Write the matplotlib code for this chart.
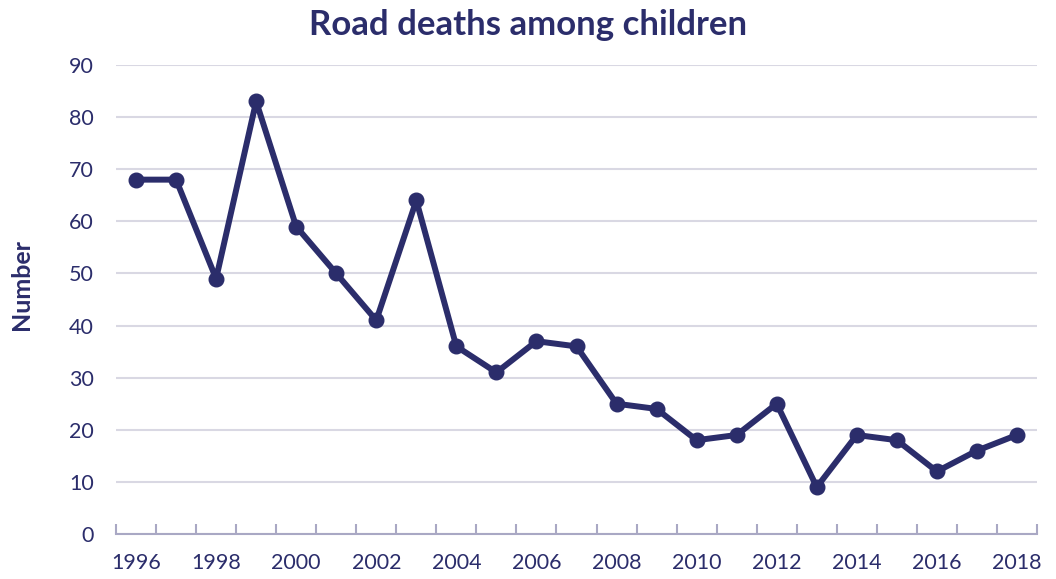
#!/usr/bin/env python3

import matplotlib
matplotlib.use('Agg')
from matplotlib import pyplot as plt
from matplotlib.ticker import FixedLocator


years = list(range(1996, 2019))
deaths = [68, 68, 49, 83, 59, 50, 41, 64, 36, 31, 37, 36,
          25, 24, 18, 19, 25, 9, 19, 18, 12, 16, 19]
yticks = list(range(0, 91, 10))

navy = '#2b2d6b'
grid_col = '#d9d8e3'
axis_col = '#a9a8c4'

plt.rcParams['font.family'] = ['Lato', 'DejaVu Sans']

fig = plt.figure(figsize=(10.56, 5.79), dpi=100)
ax = fig.add_axes([116 / 1056, 45 / 579, 921 / 1056, 469 / 579])

x = list(range(len(years)))
ax.plot(x, deaths, color=navy, lw=4.3, marker='o', ms=10.5, zorder=3,
        solid_joinstyle='round')

ax.set_xlim(-0.5, len(years) - 0.5)
ax.set_ylim(0, 90)
ax.set_yticks(yticks)
ax.set_yticklabels([str(v) for v in yticks])
ax.yaxis.grid(True, color=grid_col, lw=1.5)
ax.set_axisbelow(True)

ax.set_xticks(x[::2])
ax.set_xticklabels([str(y) for y in years[::2]])
ax.xaxis.set_minor_locator(FixedLocator([i - 0.5 for i in range(len(years) + 1)]))
ax.tick_params(axis='x', which='major', length=0, pad=14,
               labelsize=15.5, labelcolor=navy)
ax.tick_params(axis='x', which='minor', direction='in', length=7,
               width=1.5, color=axis_col)
ax.tick_params(axis='y', length=0, pad=16, labelsize=15.5, labelcolor=navy)

for side in ['top', 'right', 'left']:
    ax.spines[side].set_visible(False)
ax.spines['bottom'].set_color(axis_col)
ax.spines['bottom'].set_linewidth(1.5)

ax.set_ylabel('Number', fontsize=18, fontweight='bold', color=navy)
ax.yaxis.set_label_coords(-0.09, 0.533)
fig.text(528 / 1056, 1 - 25 / 579,
         'Road deaths among children', ha='center', va='center',
         fontsize=25, fontweight='bold', color=navy)

fig.savefig('out.png', dpi=100)
